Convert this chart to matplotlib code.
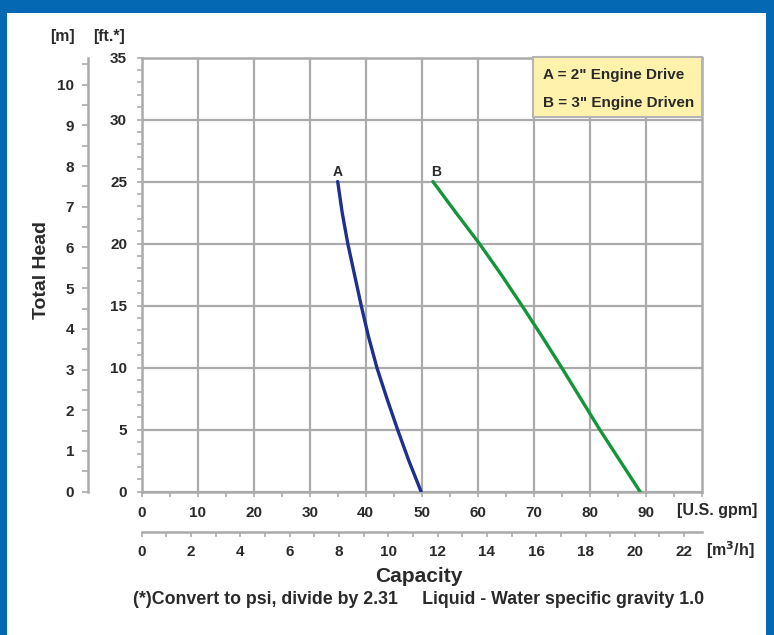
import matplotlib
matplotlib.use("Agg")
import matplotlib.pyplot as plt
from matplotlib.ticker import MultipleLocator
from matplotlib.patches import Rectangle

plt.rcParams['font.family'] = ['Liberation Sans', 'DejaVu Sans']
plt.rcParams['font.weight'] = 'bold'

# ---- data ----
head_ft = [25, 22.5, 20, 17.5, 15, 12.5, 10, 7.5, 5, 2.5, 0]
flow_a_gpm = [35.0, 35.8, 36.8, 38.0, 39.2, 40.5, 42.0, 43.8, 45.7, 47.7, 49.9]
flow_b_gpm = [52.0, 56.1, 60.3, 64.2, 67.9, 71.5, 75.0, 78.4, 81.8, 85.4, 89.0]
gpm_ticks = [0, 10, 20, 30, 40, 50, 60, 70, 80, 90]
m3h_ticks = [0, 2, 4, 6, 8, 10, 12, 14, 16, 18, 20, 22]
ft_ticks = [0, 5, 10, 15, 20, 25, 30, 35]
m_ticks = [0, 1, 2, 3, 4, 5, 6, 7, 8, 9, 10]
legend_lines = ['A = 2" Engine Drive', 'B = 3" Engine Driven']
curve_labels = ['A', 'B']

GPM_PER_M3H = 4.4029
M_PER_FT = 0.3048

W, H = 774, 635
fig = plt.figure(figsize=(W / 100, H / 100), dpi=100, facecolor='#0568b3')
fig.patches.append(Rectangle((7 / W, 0), 759 / W, 1 - 13 / H, transform=fig.transFigure,
                             facecolor='white', edgecolor='none', zorder=-10))

x0, x1 = 141.7, 701.7
y0, y1 = 491.7, 57.5
ax = fig.add_axes([x0 / W, 1 - y0 / H, (x1 - x0) / W, (y0 - y1) / H])
ax.set_xlim(0, 100)
ax.set_ylim(0, 35)
ax.patch.set_alpha(0)

GRID = '#ababab'
TXT = '#2a2a2a'
TS = 11
ax.set_xticks(gpm_ticks)
ax.set_yticks(ft_ticks)
ax.xaxis.set_minor_locator(MultipleLocator(5))
ax.yaxis.set_minor_locator(MultipleLocator(1))
ax.grid(True, which='major', color=GRID, linewidth=1.6)
ax.set_axisbelow(True)
for s in ax.spines.values():
    s.set_color(GRID)
    s.set_linewidth(1.8)
ax.tick_params(which='both', direction='out', color=GRID, width=1.2, length=3.5,
               labelcolor=TXT, labelsize=TS)
ax.tick_params(axis='y', pad=7)
ax.tick_params(axis='x', pad=6.5)
for lab in ax.get_xticklabels() + ax.get_yticklabels():
    lab.set_fontweight('bold')

# curves
ax.plot(flow_a_gpm, head_ft, color='#1d2f8f', linewidth=2.4, solid_capstyle='round',
        solid_joinstyle='round', zorder=3)
ax.plot(flow_b_gpm, head_ft, color='#13953a', linewidth=2.4, solid_capstyle='round',
        solid_joinstyle='round', zorder=3)
ax.text(flow_a_gpm[0] + 0.0, head_ft[0] + 0.2, curve_labels[0], ha='center', va='bottom',
        fontsize=10, fontweight='bold', color=TXT)
ax.text(flow_b_gpm[0] + 0.6, head_ft[0] + 0.2, curve_labels[1], ha='center', va='bottom',
        fontsize=10, fontweight='bold', color=TXT)

# legend box
ax.add_patch(Rectangle((69.8, 30.2), 30.2, 4.8, facecolor='#fff2ad', edgecolor='#b5b5b5',
                       linewidth=1.5, zorder=4, clip_on=False))
ax.text(71.6, 33.6, legend_lines[0], ha='left', va='center', fontsize=11,
        fontweight='bold', color=TXT, zorder=5)
ax.text(71.6, 31.35, legend_lines[1], ha='left', va='center', fontsize=11,
        fontweight='bold', color=TXT, zorder=5)

# secondary y axis in metres
secy = ax.secondary_yaxis((88 - x0) / (x1 - x0),
                          functions=(lambda f: f * M_PER_FT, lambda m: m / M_PER_FT))
secy.set_yticks(m_ticks)
secy.yaxis.set_minor_locator(MultipleLocator(0.5))
secy.spines['left'].set_color(GRID)
secy.spines['left'].set_linewidth(1.8)
secy.tick_params(which='both', direction='out', color=GRID, width=1.2, length=4,
                 labelcolor=TXT, labelsize=TS, pad=6)
for lab in secy.get_yticklabels():
    lab.set_fontweight('bold')

# secondary x axis in m3/h
secx = ax.secondary_xaxis(-(531.7 - y0) / (y0 - y1),
                          functions=(lambda g: g / GPM_PER_M3H, lambda q: q * GPM_PER_M3H))
secx.set_xticks(m3h_ticks)
secx.xaxis.set_minor_locator(MultipleLocator(1))
secx.spines['bottom'].set_color(GRID)
secx.spines['bottom'].set_linewidth(1.8)
secx.tick_params(which='both', direction='out', color=GRID, width=1.2, length=3.5,
                 labelcolor=TXT, labelsize=TS, pad=6)
for lab in secx.get_xticklabels():
    lab.set_fontweight('bold')

def ft(x, y, s, **kw):
    fig.text(x / W, 1 - y / H, s, color=TXT, fontweight='bold', **kw)

ft(677, 511, '[U.S. gpm]', ha='left', va='center', fontsize=11.5)
ft(706, 550, '[m$^3$/h]', ha='left', va='center', fontsize=11.5)
ft(62, 37, '[m]', ha='center', va='center', fontsize=11.3)
ft(109, 37, '[ft.*]', ha='center', va='center', fontsize=11.3)
ft(42, 270, 'Total Head', ha='center', va='center', rotation=90, fontsize=14)
ft(419, 576, 'Capacity', ha='center', va='center', fontsize=15)
ft(419, 600, '(*)Convert to psi, divide by 2.31     Liquid - Water specific gravity 1.0',
   ha='center', va='center', fontsize=12.8)

fig.savefig('out.png', dpi=100, facecolor=fig.get_facecolor())
